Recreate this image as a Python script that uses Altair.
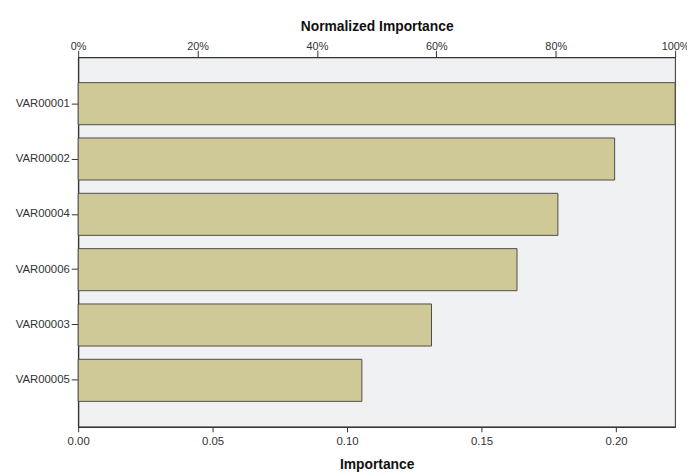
import altair as alt
import pandas as pd

categories = ["VAR00001", "VAR00002", "VAR00004", "VAR00006", "VAR00003", "VAR00005"]
importance = [0.222, 0.1995, 0.1784, 0.1632, 0.1314, 0.1055]
normalized = [1.0, 0.899, 0.804, 0.735, 0.592, 0.475]
bottom_ticks = [0.0, 0.05, 0.10, 0.15, 0.20]
top_ticks = [0.0, 0.2, 0.4, 0.6, 0.8, 1.0]

df = pd.DataFrame({"var": categories, "imp": importance, "norm": normalized})

FONT = "Liberation Sans"

y_enc = alt.Y(
    "var:N",
    sort=categories,
    scale=alt.Scale(paddingInner=0.24, paddingOuter=0.46),
    axis=alt.Axis(
        title=None, tickSize=7, labelPadding=2, labelFontSize=11.5,
        labelColor="#333333", tickColor="#333333", domainColor="#333333",
        labelFont=FONT, domainWidth=1.2,
    ),
)

bars = alt.Chart(df).mark_bar(
    color="#CFC998", stroke="#4d4d4d", strokeWidth=1
).encode(
    x=alt.X(
        "imp:Q",
        scale=alt.Scale(domain=[0, 0.222], nice=False, zero=True),
        axis=alt.Axis(
            orient="bottom", title="Importance", values=bottom_ticks, format=".2f",
            grid=False, tickSize=5, labelPadding=4, labelFontSize=11.5,
            labelFont=FONT, labelColor="#333333", tickColor="#333333",
            domainColor="#333333", domainWidth=1.2,
            titleFont=FONT, titleFontSize=14, titleFontWeight="bold",
            titleColor="#111111", titleBaseline="alphabetic", titleY=42,
            labelFlush=False, labelBound=False,
        ),
    ),
    y=y_enc,
)

top = alt.Chart(df).mark_bar(opacity=0).encode(
    x=alt.X(
        "norm:Q",
        scale=alt.Scale(domain=[0, 1], nice=False, zero=True),
        axis=alt.Axis(
            orient="top", title="Normalized Importance", values=top_ticks, format=".0%",
            grid=False, tickSize=7, labelPadding=-1, labelFontSize=11,
            labelFont=FONT, labelColor="#333333", tickColor="#333333",
            domainColor="#333333", domainWidth=1.2,
            titleFont=FONT, titleFontSize=14, titleFontWeight="bold",
            titleColor="#111111", titleBaseline="alphabetic", titleY=-27,
            labelFlush=False, labelBound=False, labelOverlap=False,
        ),
    ),
    y=y_enc,
)

chart = alt.layer(bars, top).resolve_scale(x="independent").properties(
    width=604,
    height=374,
    autosize=alt.AutoSizeParams(type="none"),
    padding={"left": 71, "top": 47, "right": 12, "bottom": 47},
    background="white",
).configure_view(
    fill="#F0F1F3", stroke="#4d4d4d", strokeWidth=1.2
)

chart.save("out.html", embed_options={"renderer": "svg", "actions": False})
